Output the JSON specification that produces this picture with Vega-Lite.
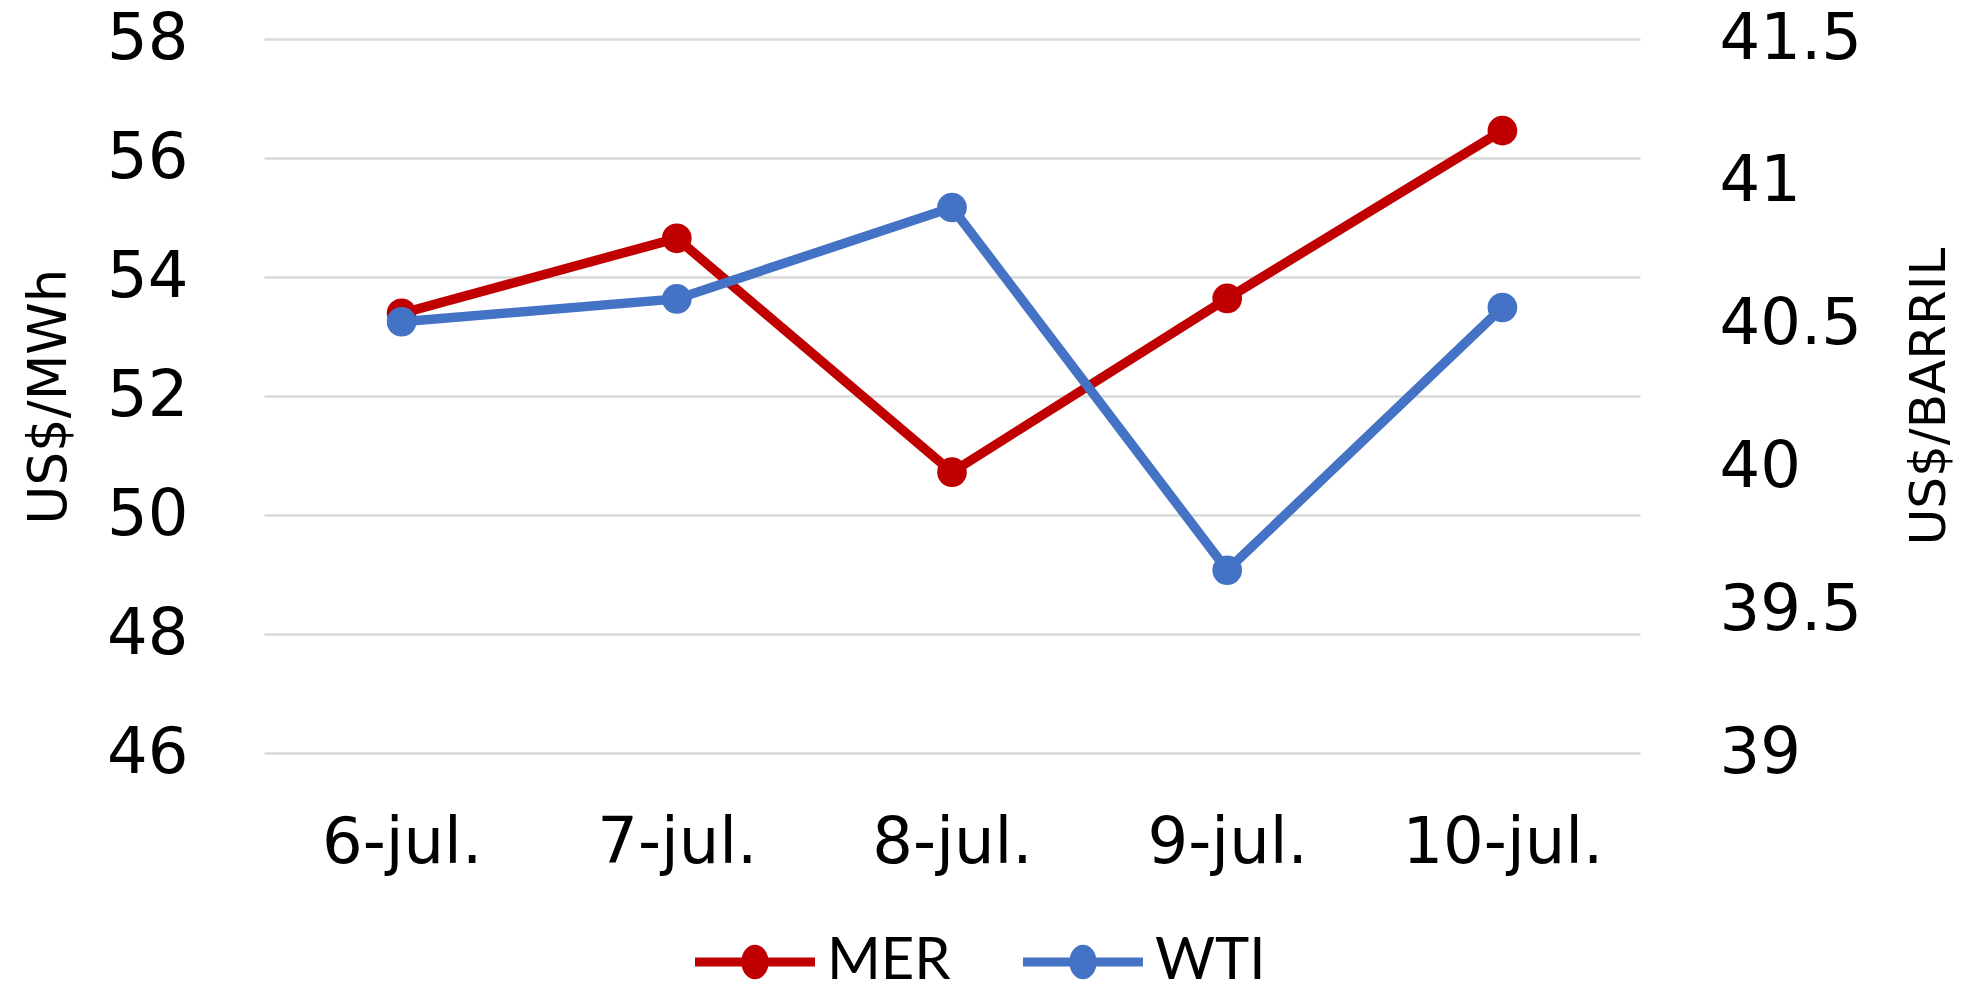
{
  "$schema": "https://vega.github.io/schema/vega-lite/v6.json",
  "autosize": "none",
  "width": 1376,
  "height": 714,
  "padding": {"left": 264, "top": 39, "right": 324, "bottom": 242},
  "background": "white",
  "data": {
    "values": [
      {"date": "6-jul.", "series": "MER", "value": 53.39},
      {"date": "7-jul.", "series": "MER", "value": 54.65},
      {"date": "8-jul.", "series": "MER", "value": 50.72},
      {"date": "9-jul.", "series": "MER", "value": 53.64},
      {"date": "10-jul.", "series": "MER", "value": 56.46},
      {"date": "6-jul.", "series": "WTI", "value": 40.51},
      {"date": "7-jul.", "series": "WTI", "value": 40.59},
      {"date": "8-jul.", "series": "WTI", "value": 40.91},
      {"date": "9-jul.", "series": "WTI", "value": 39.64},
      {"date": "10-jul.", "series": "WTI", "value": 40.56}
    ]
  },
  "encoding": {
    "x": {
      "field": "date",
      "type": "nominal",
      "sort": null,
      "scale": {"type": "point", "padding": 0.5},
      "axis": {
        "title": null,
        "labelAngle": 0,
        "labelFont": "DejaVu Sans",
        "labelFontSize": 64,
        "labelColor": "#000000",
        "labelPadding": 58,
        "labelLimit": 500,
        "domain": false,
        "ticks": false,
        "grid": false
      }
    },
    "color": {
      "field": "series",
      "type": "nominal",
      "scale": {"domain": ["MER", "WTI"], "range": ["#C00000", "#4472C4"]},
      "legend": {
        "title": null,
        "orient": "none",
        "legendX": 461,
        "legendY": 893,
        "padding": 0,
        "direction": "horizontal",
        "labelFont": "Lato",
        "labelFontSize": 58,
        "labelColor": "#000000",
        "labelOffset": 42,
        "labelLimit": 500,
        "columnPadding": 72,
        "symbolType": "M-2,-0.15 H2 V0.15 H-2 Z M-0.456,0 A0.456,0.575 0 1,1 0.456,0 A0.456,0.575 0 1,1 -0.456,0 Z",
        "symbolSize": 3600,
        "symbolStrokeWidth": 0,
        "symbolOpacity": 1
      }
    }
  },
  "layer": [
    {
      "transform": [{"filter": "datum.series === 'MER'"}],
      "mark": {"type": "line", "strokeWidth": 9.5, "point": {"filled": true, "size": 880, "opacity": 1}},
      "encoding": {
        "y": {
          "field": "value",
          "type": "quantitative",
          "scale": {"domain": [46, 58], "nice": false, "zero": false},
          "axis": {
            "orient": "left",
            "title": "US$/MWh",
            "titleFont": "DejaVu Sans",
            "titleFontSize": 53,
            "titleFontWeight": "normal",
            "titleColor": "#000000",
            "titlePadding": 30,
            "values": [46, 48, 50, 52, 54, 56, 58],
            "labelFont": "DejaVu Sans",
            "labelFontSize": 64,
            "labelColor": "#000000",
            "labelPadding": 76,
            "domain": false,
            "ticks": false,
            "grid": true,
            "gridColor": "#d9d9d9",
            "gridWidth": 2.5
          }
        }
      }
    },
    {
      "transform": [{"filter": "datum.series === 'WTI'"}],
      "mark": {"type": "line", "strokeWidth": 9.5, "point": {"filled": true, "size": 880, "opacity": 1}},
      "encoding": {
        "y": {
          "field": "value",
          "type": "quantitative",
          "scale": {"domain": [39, 41.5], "nice": false, "zero": false},
          "axis": {
            "orient": "right",
            "title": "US$/BARRIL",
            "titleFont": "DejaVu Sans",
            "titleFontSize": 50,
            "titleFontWeight": "normal",
            "titleColor": "#000000",
            "titleAngle": 270,
            "titlePadding": 114,
            "values": [39, 39.5, 40, 40.5, 41, 41.5],
            "format": ".1~f",
            "labelFont": "DejaVu Sans",
            "labelFontSize": 64,
            "labelColor": "#000000",
            "labelPadding": 79,
            "domain": false,
            "ticks": false,
            "grid": false
          }
        }
      }
    }
  ],
  "resolve": {"scale": {"y": "independent"}},
  "config": {"view": {"stroke": null}}
}
